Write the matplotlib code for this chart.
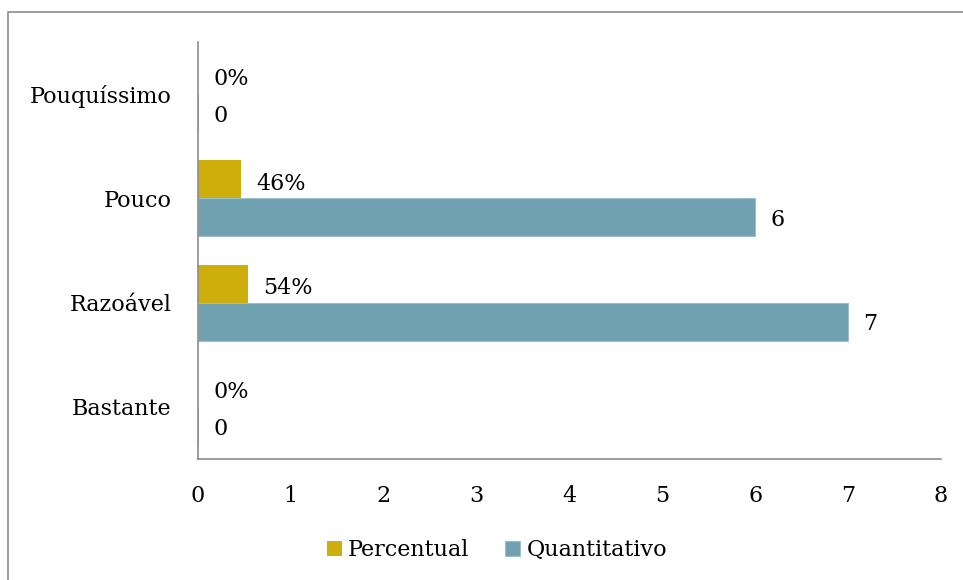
import numpy as np
import matplotlib.pyplot as plt
from matplotlib.patches import Rectangle

# dados do gráfico
categorias = ["Pouquíssimo", "Pouco", "Razoável", "Bastante"]
percentual = [0.0, 0.46, 0.54, 0.0]
quantitativo = [0, 6, 7, 0]
rotulos_pct = ["0%", "46%", "54%", "0%"]
rotulos_qtd = ["0", "6", "7", "0"]

cor_pct = "#CDAE0A"
cor_qtd = "#6FA1B0"

plt.rcParams['font.family'] = ['DejaVu Serif']
plt.rcParams['font.size'] = 16

fig = plt.figure(figsize=(9.63, 5.8), dpi=100)
ax = fig.add_axes([0.2056, 0.2086, 0.7714, 0.719])

# moldura externa
fig.patches.append(Rectangle((8 / 963, -0.1), 1.2, 1 - 12 / 580 + 0.1,
                             transform=fig.transFigure, fill=False,
                             edgecolor="#8c8c8c", linewidth=1.2))

y = np.arange(len(categorias))
h = 0.365

b1 = ax.barh(y - h / 2, percentual, height=h, color=cor_pct, label="Percentual")
b2 = ax.barh(y + h / 2, quantitativo, height=h, color=cor_qtd,
             edgecolor="#9cc0cb", linewidth=0.8, label="Quantitativo")

for i in range(len(categorias)):
    ax.annotate(rotulos_pct[i], (percentual[i], y[i] - h / 2),
                xytext=(11, -3), textcoords="offset points",
                va="center", ha="left", fontsize=16)
    ax.annotate(rotulos_qtd[i], (quantitativo[i], y[i] + h / 2),
                xytext=(11, -2), textcoords="offset points",
                va="center", ha="left", fontsize=16)

ax.set_xlim(0, 8)
ax.set_ylim(3.5, -0.5)
ax.set_yticks(y)
ax.set_yticklabels(categorias)
ax.set_xticks(range(9))
ax.tick_params(axis="both", length=0)
ax.tick_params(axis="x", pad=19)
ax.tick_params(axis="y", pad=19)

for s in ["top", "right"]:
    ax.spines[s].set_visible(False)
for s in ["left", "bottom"]:
    ax.spines[s].set_color("#8c8c8c")
    ax.spines[s].set_linewidth(1.2)

fig.legend(handles=[b1, b2], loc="center", bbox_to_anchor=(497 / 963, 1 - 550 / 580),
           ncol=2, frameon=False, handlelength=0.65, handleheight=0.65,
           handletextpad=0.3, columnspacing=1.6, fontsize=16)

fig.savefig("out.png", dpi=100)
